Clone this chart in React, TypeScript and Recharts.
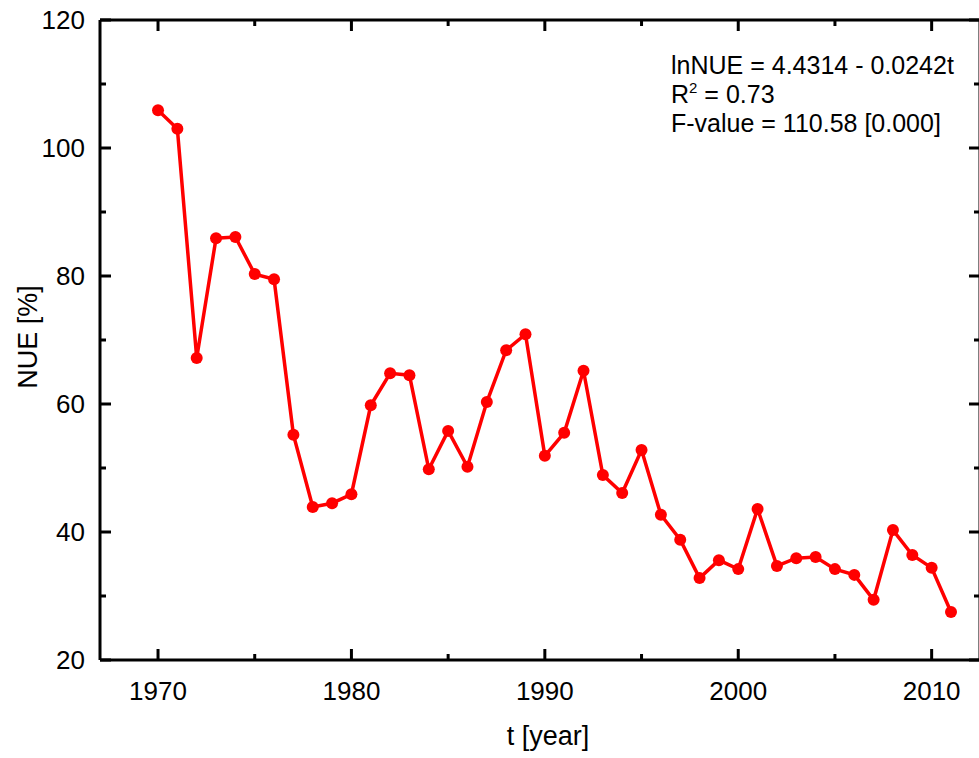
import { LineChart, Line, XAxis, YAxis } from 'recharts';

const years = [
  1970, 1971, 1972, 1973, 1974, 1975, 1976, 1977, 1978, 1979,
  1980, 1981, 1982, 1983, 1984, 1985, 1986, 1987, 1988, 1989,
  1990, 1991, 1992, 1993, 1994, 1995, 1996, 1997, 1998, 1999,
  2000, 2001, 2002, 2003, 2004, 2005, 2006, 2007, 2008, 2009,
  2010, 2011,
];
const nue = [
  105.9, 103.0, 67.2, 85.9, 86.1, 80.3, 79.5, 55.2, 43.9, 44.5,
  45.9, 59.8, 64.8, 64.5, 49.8, 55.8, 50.2, 60.3, 68.4, 70.9,
  51.9, 55.5, 65.2, 48.9, 46.1, 52.8, 42.7, 38.8, 32.8, 35.6,
  34.2, 43.6, 34.7, 35.9, 36.1, 34.2, 33.3, 29.4, 40.3, 36.4,
  34.4, 27.5,
];
const xTicks = [1970, 1975, 1980, 1985, 1990, 1995, 2000, 2005, 2010];
const xLabels = [1970, 1980, 1990, 2000, 2010];
const yTicks = [20, 30, 40, 50, 60, 70, 80, 90, 100, 110, 120];
const yLabels = [20, 40, 60, 80, 100, 120];

const data = years.map((t, i) => ({ t, nue: nue[i] }));

const FONT = '"Liberation Sans", Arial, sans-serif';
const MAJOR = 11;
const MINOR = 6;

function BottomTick(props: any) {
  const { x, y, payload } = props;
  const major = xLabels.includes(payload.value);
  return (
    <g>
      <line x1={x} y1={y} x2={x} y2={y - (major ? MAJOR : MINOR)} stroke="#000" strokeWidth={3} />
      {major && (
        <text x={x} y={y + 40} textAnchor="middle" fontSize={26} fontFamily={FONT} fill="#000">
          {payload.value}
        </text>
      )}
    </g>
  );
}

function TopTick(props: any) {
  const { x, y, payload } = props;
  const major = xLabels.includes(payload.value);
  return <line x1={x} y1={y} x2={x} y2={y + (major ? MAJOR : MINOR)} stroke="#000" strokeWidth={3} />;
}

function LeftTick(props: any) {
  const { x, y, payload } = props;
  const major = yLabels.includes(payload.value);
  return (
    <g>
      <line x1={x} y1={y} x2={x + (major ? MAJOR : MINOR)} y2={y} stroke="#000" strokeWidth={3} />
      {major && (
        <text x={x - 15} y={y + 9} textAnchor="end" fontSize={26} fontFamily={FONT} fill="#000">
          {payload.value}
        </text>
      )}
    </g>
  );
}

function RightTick(props: any) {
  const { x, y, payload } = props;
  const major = yLabels.includes(payload.value);
  return <line x1={x} y1={y} x2={x - (major ? MAJOR : MINOR)} y2={y} stroke="#000" strokeWidth={3} />;
}

export default function App() {
  return (
    <div style={{ position: 'absolute', left: 0, top: 0, width: 979, height: 758, overflow: 'hidden', background: '#fff' }}>
      <LineChart width={981} height={758} data={data} margin={{ top: 20, right: 1, bottom: 0, left: 0 }}>
        <XAxis
          dataKey="t"
          type="number"
          domain={[1967, 2012.5]}
          ticks={xTicks}
          interval={0}
          allowDataOverflow
          height={98}
          tickSize={0}
          tickMargin={0}
          tick={<BottomTick />}
          axisLine={{ stroke: '#000', strokeWidth: 3 }}
        />
        <XAxis
          xAxisId="top"
          orientation="top"
          dataKey="t"
          type="number"
          domain={[1967, 2012.5]}
          ticks={xTicks}
          interval={0}
          allowDataOverflow
          mirror
          tickSize={0}
          tickMargin={0}
          tick={<TopTick />}
          axisLine={{ stroke: '#000', strokeWidth: 3 }}
        />
        <YAxis
          type="number"
          domain={[20, 120]}
          ticks={yTicks}
          interval={0}
          allowDataOverflow
          width={100}
          tickSize={0}
          tickMargin={0}
          tick={<LeftTick />}
          axisLine={{ stroke: '#000', strokeWidth: 3 }}
        />
        <YAxis
          yAxisId="right"
          orientation="right"
          type="number"
          domain={[20, 120]}
          ticks={yTicks}
          interval={0}
          allowDataOverflow
          mirror
          tickSize={0}
          tickMargin={0}
          tick={<RightTick />}
          axisLine={{ stroke: '#000', strokeWidth: 3 }}
        />
        <Line
          dataKey="nue"
          type="linear"
          stroke="#ff0000"
          strokeWidth={3.5}
          dot={{ r: 6, fill: '#ff0000', stroke: 'none' }}
          isAnimationActive={false}
        />
        <text x={28} y={337} transform="rotate(-90 28 337)" textAnchor="middle" dominantBaseline="central" fontSize={27} fontFamily={FONT} fill="#000">
          NUE [%]
        </text>
        <text x={548} y={745} textAnchor="middle" fontSize={27} fontFamily={FONT} fill="#000">
          t [year]
        </text>
        <g fontSize={25} fontFamily={FONT} fill="#000">
          <text x={671} y={74}>lnNUE = 4.4314 - 0.0242t</text>
          <text x={671} y={103}>
            R<tspan dy={-10} fontSize={15}>2</tspan>
            <tspan dy={10}> = 0.73</tspan>
          </text>
          <text x={671} y={132}>F-value = 110.58 [0.000]</text>
        </g>
      </LineChart>
    </div>
  );
}
